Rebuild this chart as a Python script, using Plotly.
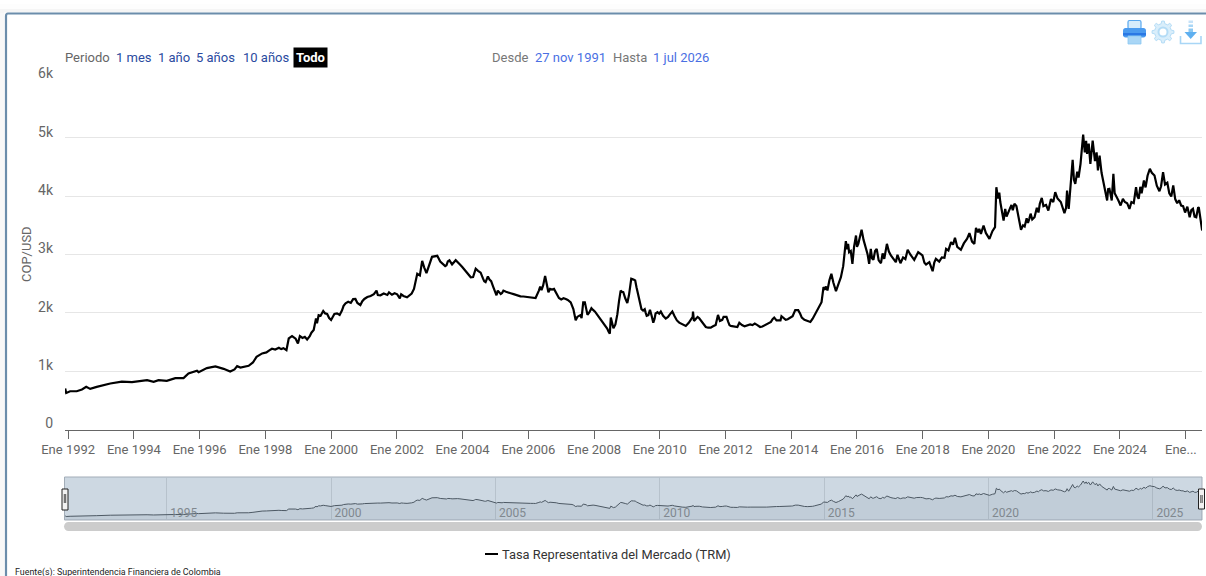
import math
import pandas as pd
import plotly.graph_objects as go

W, H = 1206, 576

# Values: decimal year, COP per USD
anos_1991_2001 = [1991.91,1991.94,1992.06,1992.26,1992.42,1992.55,1992.67,1992.87,1993.28,1993.63,1993.94,1994.40,1994.60,1994.75,1995.00,1995.26,1995.51,1995.66,1995.92,1995.97,1996.22,1996.48,1996.73,1996.93,1997.06,1997.14,1997.24,1997.49,1997.62,1997.73,1997.90,1998.03,1998.13,1998.41,1998.48,1998.64,1998.71,1998.81,1998.92,1998.99,1999.05,1999.27,1999.47,1999.54,1999.57,1999.76,1999.88,2000.00,2000.10,2000.26,2000.44,2000.74,2000.89,2001.01,2001.20,2001.38,2001.42,2001.71,2001.76,2002.01]
trm_1991_2001 = [702,627,656,656,685,731,696,731,788,822,811,845,817,845,834,880,880,960,1006,983,1052,1080,1040,994,1029,1086,1063,1092,1149,1246,1304,1321,1361,1401,1378,1361,1561,1602,1556,1476,1602,1544,1705,1905,1820,2031,1980,1877,1980,1963,2163,2238,2134,2238,2289,2381,2306,2306,2352,2318]

anos_2002_2014 = [2002.09,2002.13,2002.31,2002.52,2002.62,2002.77,2002.90,2003.07,2003.23,2003.41,2003.51,2003.60,2003.68,2003.79,2003.99,2004.19,2004.32,2004.40,2004.55,2004.70,2004.77,2004.87,2005.00,2005.07,2005.16,2005.24,2005.46,2005.76,2006.07,2006.22,2006.32,2006.40,2006.51,2006.61,2006.78,2006.93,2007.14,2007.29,2007.37,2007.44,2007.54,2007.62,2007.67,2007.72,2007.80,2007.92,2008.10,2008.30,2008.48,2008.51,2008.59,2008.71,2008.81,2008.89,2009.01,2009.13,2009.25,2009.34,2009.44,2009.54,2009.60,2009.70,2009.80,2009.87,2010.03,2010.18,2010.38,2010.59,2010.79,2011.00,2011.01,2011.04,2011.20,2011.40,2011.55,2011.70,2011.77,2011.83,2011.94,2012.03,2012.16,2012.36,2012.42,2012.67,2012.89,2013.05,2013.38,2013.48,2013.63,2013.70,2013.89,2014.04,2014.12,2014.21,2014.32,2014.58,2014.75,2014.88]
trm_2002_2014 = [2249,2318,2266,2410,2670,2890,2680,2960,2977,2832,2815,2900,2830,2902,2786,2653,2613,2757,2688,2526,2624,2543,2324,2381,2324,2381,2335,2283,2266,2254,2381,2390,2630,2353,2410,2254,2237,2179,2064,1873,1948,1910,2179,2179,1965,2081,1965,1815,1642,1919,1734,1977,2381,2353,2168,2584,2555,2324,2064,2064,1948,2052,1832,1988,2023,1902,2023,1832,1775,1931,2023,1860,1907,1757,1746,1792,1965,1861,1931,1931,1775,1757,1830,1792,1815,1757,1844,1919,1873,1942,1890,1942,2046,2046,1919,1844,2006,2121]

anos_2015_2026 = [2014.92,2014.98,2015.02,2015.06,2015.10,2015.16,2015.22,2015.28,2015.36,2015.44,2015.51,2015.58,2015.61,2015.66,2015.70,2015.73,2015.76,2015.81,2015.86,2015.91,2015.97,2016.00,2016.04,2016.09,2016.14,2016.20,2016.27,2016.32,2016.37,2016.42,2016.46,2016.50,2016.55,2016.60,2016.66,2016.73,2016.78,2016.83,2016.91,2016.97,2017.03,2017.10,2017.18,2017.23,2017.28,2017.32,2017.40,2017.47,2017.54,2017.62,2017.74,2017.80,2017.86,2017.93,2017.99,2018.05,2018.10,2018.20,2018.25,2018.30,2018.35,2018.40,2018.50,2018.58,2018.66,2018.71,2018.78,2018.86,2018.92,2018.98,2019.05,2019.16,2019.25,2019.35,2019.42,2019.50,2019.57,2019.62,2019.68,2019.72,2019.77,2019.85,2019.92,2020.03,2020.12,2020.20,2020.24,2020.29,2020.33,2020.36,2020.46,2020.51,2020.55,2020.64,2020.70,2020.74,2020.79,2020.85,2020.89,2020.99,2021.05,2021.10,2021.16,2021.20,2021.24,2021.28,2021.33,2021.40,2021.47,2021.52,2021.56,2021.62,2021.67,2021.75,2021.82,2021.90,2021.97,2022.03,2022.10,2022.20,2022.31,2022.36,2022.39,2022.44,2022.50,2022.56,2022.60,2022.64,2022.70,2022.74,2022.80,2022.88,2022.93,2022.97,2023.00,2023.05,2023.10,2023.17,2023.24,2023.29,2023.33,2023.38,2023.44,2023.50,2023.55,2023.61,2023.64,2023.68,2023.75,2023.80,2023.84,2023.88,2023.95,2024.02,2024.09,2024.15,2024.22,2024.29,2024.35,2024.42,2024.49,2024.53,2024.57,2024.62,2024.66,2024.73,2024.78,2024.84,2024.91,2024.97,2025.05,2025.12,2025.20,2025.25,2025.31,2025.37,2025.44,2025.50,2025.56,2025.62,2025.68,2025.74,2025.80,2025.86,2025.92,2025.98,2026.05,2026.12,2026.17,2026.22,2026.27,2026.32,2026.38,2026.40,2026.46,2026.50]
trm_2015_2026 = [2183,2440,2411,2450,2383,2560,2669,2520,2371,2500,2611,2800,2954,3229,3090,3180,3040,3060,2840,3130,3326,3130,3183,3330,3423,3250,3097,3010,2840,3097,2930,2909,3060,3097,2900,2851,3020,2926,3183,3050,2983,2920,2869,2994,2900,2851,2950,2920,3080,3000,2909,2990,3040,3010,2983,2860,2829,2869,2800,2714,2860,2926,2880,2950,2943,3097,3070,3211,3170,3286,3130,3080,3190,3270,3366,3220,3183,3457,3380,3440,3354,3497,3370,3269,3400,3469,4154,3960,4060,3900,3583,3780,3650,3754,3850,3760,3869,3830,3697,3423,3500,3480,3620,3540,3611,3700,3600,3640,3800,3720,3870,3971,3830,3850,3754,3950,3900,4069,3960,3900,3709,3800,4097,3783,4200,4623,4280,4211,4420,4320,4554,5057,4750,4950,4726,4900,4554,4954,4600,4750,4440,4697,4400,4211,4100,3926,4120,4126,3926,4383,4050,4011,3930,3840,3954,3900,3880,3783,3900,3880,4154,4000,3954,4160,4050,4269,4150,4350,4469,4400,4354,4180,4086,4170,4411,4200,4230,4050,3994,4183,3950,3880,3930,3840,3830,3720,3820,3640,3760,3783,3650,3640,3810,3800,3600,3411]

# Further readings from the zoomed crops, filling in the smaller swings
anos_detalle = [1998.20,1998.30,1998.55,1999.13,1999.20,1999.35,1999.40,1999.62,1999.68,1999.82,1999.94,2000.18,2000.33,2000.38,2000.52,2000.60,2000.67,2000.80,2000.95,2001.10,2001.30,2001.50,2001.60,2001.85,2001.93,2002.20,2002.45,2002.58,2002.70,2002.83,2003.15,2003.32,2003.47,2003.55,2003.64,2003.85,2003.92,2004.08,2004.13,2004.25,2004.36,2004.47,2004.62,2004.66,2004.82,2004.93,2005.03,2005.12,2005.20,2005.32,2005.38,2005.55,2005.65,2005.85,2005.95,2006.15,2006.36,2006.45,2006.56,2006.66,2006.72,2006.85,2007.00,2007.07,2007.20,2007.33,2007.49,2007.58,2007.76,2007.86,2007.97,2008.03,2008.20,2008.40,2008.44,2008.55,2008.65,2008.76,2008.85,2008.95,2009.06,2009.20,2009.29,2009.39,2009.49,2009.57,2009.65,2009.75,2009.84,2009.93,2009.98,2010.10,2010.25,2010.30,2010.45,2010.52,2010.68,2010.88,2010.95,2011.10,2011.15,2011.30,2011.35,2011.47,2011.62,2011.90,2011.98,2012.08,2012.12,2012.25,2012.30,2012.50,2012.58,2012.75,2012.82,2012.97,2013.12,2013.25,2013.32,2013.43,2013.55,2013.67,2013.78,2013.83,2013.95,2014.00,2014.27,2014.40,2014.50,2014.65,2014.70,2014.80]
trm_detalle = [1385,1370,1395,1570,1590,1600,1660,1960,1950,1990,1910,1990,2040,2120,2190,2170,2235,2170,2200,2270,2320,2300,2330,2310,2335,2290,2330,2600,2640,2780,2970,2880,2800,2880,2860,2860,2830,2730,2700,2610,2680,2720,2590,2540,2570,2450,2300,2350,2340,2360,2345,2320,2300,2280,2275,2262,2450,2470,2490,2410,2400,2340,2230,2250,2220,2130,1930,1960,2090,2010,2050,2020,1890,1730,1680,1800,1800,2200,2360,2250,2300,2570,2440,2170,2040,2000,1960,1950,1900,2010,1985,1950,1930,1970,1940,1870,1800,1830,1880,1900,1930,1820,1790,1745,1770,1880,1930,1850,1790,1770,1755,1790,1770,1800,1790,1790,1765,1800,1815,1890,1870,1870,1905,1880,1910,1930,1985,1880,1860,1900,1950,2050]

x_tick_years = list(range(1992, 2027, 2))
x_tick_labels = ["Ene %d" % y for y in x_tick_years[:-1]] + ["Ene...\u00a0\u00a0\u00a0"]
y_tick_vals = [0, 1000, 2000, 3000, 4000, 5000, 6000]
y_tick_labels = ["0", "1k", "2k", "3k", "4k", "5k", "6k"]
nav_years = [1995, 2000, 2005, 2010, 2015, 2020, 2025]
series_name = "Tasa Representativa del Mercado (TRM)"


def to_date(y):
    base = int(y)
    start = pd.Timestamp(base, 1, 1)
    return start + pd.Timedelta(days=(y - base) * 365.25)


tabla = sorted(zip(anos_1991_2001 + anos_2002_2014 + anos_2015_2026 + anos_detalle,
                   trm_1991_2001 + trm_2002_2014 + trm_2015_2026 + trm_detalle))
fechas = [to_date(a) for a, _ in tabla]
trm = [v for _, v in tabla]


def px(x):
    return x / W


def py(y):
    return 1 - y / H


def rrect(x0, y0, x1, y1, r):
    k = 0.45 * r
    p = lambda a, b: "%.5f,%.5f" % (px(a), py(b))
    return ("M" + p(x0 + r, y0) + " L" + p(x1 - r, y0)
            + " C" + p(x1 - k, y0) + " " + p(x1, y0 + k) + " " + p(x1, y0 + r)
            + " L" + p(x1, y1 - r)
            + " C" + p(x1, y1 - k) + " " + p(x1 - k, y1) + " " + p(x1 - r, y1)
            + " L" + p(x0 + r, y1)
            + " C" + p(x0 + k, y1) + " " + p(x0, y1 - k) + " " + p(x0, y1 - r)
            + " L" + p(x0, y0 + r)
            + " C" + p(x0, y0 + k) + " " + p(x0 + k, y0) + " " + p(x0 + r, y0) + " Z")


def poly(points):
    return "M" + " L".join("%.5f,%.5f" % (px(a), py(b)) for a, b in points) + " Z"


def rect(x0, y0, x1, y1, fill=None, line=None, lw=1, layer="above"):
    return dict(type="rect", xref="paper", yref="paper", x0=px(x0), x1=px(x1), y0=py(y0), y1=py(y1),
                fillcolor=fill or "rgba(0,0,0,0)", line=dict(color=line or "rgba(0,0,0,0)", width=lw if line else 0), layer=layer)


def seg(x0, y0, x1, y1, color, lw=1, layer="above"):
    return dict(type="line", xref="paper", yref="paper", x0=px(x0), x1=px(x1), y0=py(y0), y1=py(y1),
                line=dict(color=color, width=lw), layer=layer)


def path(d, fill=None, line=None, lw=1, layer="above"):
    return dict(type="path", xref="paper", yref="paper", path=d, fillcolor=fill or "rgba(0,0,0,0)",
                line=dict(color=line or "rgba(0,0,0,0)", width=lw if line else 0), layer=layer)


def circle(cx, cy, r, fill=None, line=None, lw=1):
    return dict(type="circle", xref="paper", yref="paper", x0=px(cx - r), x1=px(cx + r), y0=py(cy + r), y1=py(cy - r),
                fillcolor=fill or "rgba(0,0,0,0)", line=dict(color=line or "rgba(0,0,0,0)", width=lw if line else 0))


def gear(cx, cy, teeth=8, ro=11, ri=8.5):
    pts = []
    for i in range(teeth):
        a = 2 * math.pi * i / teeth
        w = math.pi / teeth
        for da, r in ((-0.55 * w, ri), (-0.3 * w, ro), (0.3 * w, ro), (0.55 * w, ri)):
            pts.append((cx + r * math.cos(a + da), cy + r * math.sin(a + da)))
    return poly(pts)


shapes = [
    # card frame
    rect(0, 4, W, 9, fill="rgba(235,235,235,0.12)", layer="below"),
    rect(0, 9, W, 12.5, fill="rgba(225,225,225,0.35)", layer="below"),
    rect(0, 12, 4.5, H, fill="rgba(235,235,235,0.35)", layer="below"),
    seg(8, 13.5, W, 13.5, "#6b8dab", 2.2),
    seg(6, 16, 6, H, "#6b8dab", 2.2),
    path("M%.5f,%.5f C%.5f,%.5f %.5f,%.5f %.5f,%.5f" % (px(6), py(16), px(6), py(14.5), px(6.5), py(13.5), px(8), py(13.5)),
         line="#6b8dab", lw=2.2),
    # navigator
    rect(64.5, 477, 1202, 520, fill="#cdd8e2", line="#a3adb8", lw=1, layer="below"),
    # scrollbar
    path(rrect(64, 522, 1202, 531, 4.5), fill="#cccccc", layer="below"),
    # navigator handles
    rect(62, 489, 68, 510, fill="#f2f2f2", line="#222222", lw=1),
    seg(64.3, 494, 64.3, 503, "#555555", 1),
    seg(65.7, 494, 65.7, 503, "#555555", 1),
    rect(1198.5, 489, 1204.5, 509, fill="#f2f2f2", line="#222222", lw=1),
    seg(1200.8, 495, 1200.8, 503, "#555555", 1),
    seg(1202.2, 495, 1202.2, 503, "#555555", 1),
    # legend sample
    seg(485, 554, 498, 554, "#000000", 2),
    # printer icon
    path(rrect(1128, 20.5, 1141, 29, 1.5), fill="#d6ecfb", line="#5aa8ee", lw=1.2),
    path(rrect(1123, 28, 1146, 37.5, 2.5), fill="#4b9bef"),
    rect(1123, 33, 1146, 35.5, fill="#2a78e4"),
    rect(1128, 36, 1141, 44, fill="#a9d6f6", line="#8cc8f2", lw=0.8),
    # settings icon
    path(gear(1163, 32), fill="#d9eefb", line="#b4dcf6", lw=1),
    circle(1163, 32, 4.5, fill="#ffffff", line="#b4dcf6", lw=2),
    # download icon
    rect(1188.5, 20.5, 1193, 23, fill="#c6e2f8"),
    rect(1188.5, 24.5, 1193, 27, fill="#a8d6f6"),
    rect(1188.5, 28.5, 1193, 32, fill="#8cc8f2"),
    path(poly([(1184.5, 32), (1197, 32), (1190.7, 39)]), fill="#5fb0f0"),
    path("M%.5f,%.5f L%.5f,%.5f L%.5f,%.5f L%.5f,%.5f" % (px(1180.5), py(36), px(1180.5), py(43.5), px(1201), py(43.5), px(1201), py(36)),
         line="#a8d6f6", lw=1.6),
]


def note(x, y, text, color="#666666", size=13, xanchor="left", **kw):
    return dict(xref="paper", yref="paper", x=px(x), y=py(y), text=text, showarrow=False, xanchor=xanchor,
                yanchor="middle", font=dict(family="Roboto", size=size, color=color), **kw)


DARK = "#2a4aa0"
LIGHT = "#4a6fe3"
annotations = [
    note(63, 57, "Periodo"),
    note(113.5, 57, "1 mes", DARK),
    note(156, 57, "1 año", DARK),
    note(194.5, 57, "5 años", DARK),
    note(240.5, 57, "10 años", DARK),
    note(293, 58, "<b>Todo</b>", "#ffffff", bgcolor="#000000", borderpad=2),
    note(490, 57, "Desde", "#777777", 13),
    note(532.5, 57, "27 nov 1991", LIGHT, 13),
    note(610.5, 57, "Hasta", "#777777", 13),
    note(650.5, 57, "1 jul 2026", LIGHT, 13),
    note(500, 554, series_name, "#333333", 12.85),
    note(12.5, 572, "Fuente(s): Superintendencia Financiera de Colombia", "#222222", 8.9),
    note(26, 254, "COP/USD", "#666666", 13, xanchor="center", textangle=-90),
]

x_start, x_end = "1991-11-27", "2026-07-01"

fig = go.Figure()
fig.add_trace(go.Scatter(x=fechas, y=trm, mode="lines", name=series_name, showlegend=False,
                         line=dict(color="#000000", width=2.2), xaxis="x", yaxis="y"))
fig.add_trace(go.Scatter(x=fechas, y=trm, mode="lines", showlegend=False, hoverinfo="skip", fill="tozeroy",
                         fillcolor="rgba(90,110,130,0.10)", line=dict(color="#4d5964", width=1), xaxis="x2", yaxis="y2"))

fig.update_layout(
    width=W, height=H, autosize=False,
    margin=dict(l=0, r=0, t=0, b=0, pad=0, autoexpand=False),
    paper_bgcolor="#ffffff", plot_bgcolor="rgba(0,0,0,0)",
    font=dict(family="Roboto", color="#666666"),
    showlegend=False,
    shapes=shapes, annotations=annotations,
    xaxis=dict(
        domain=[px(65), px(1202)], range=[x_start, x_end], type="date", anchor="y",
        tickmode="array", tickvals=["%d-01-01" % y for y in x_tick_years], ticktext=x_tick_labels,
        ticks="outside", ticklen=8, tickwidth=1, tickcolor="#666666", ticklabeloverflow="allow",
        showline=True, linecolor="#666666", linewidth=1, showgrid=False, zeroline=False,
        tickfont=dict(family="Roboto", size=13, color="#666666"), tickangle=0,
    ),
    yaxis=dict(
        domain=[py(429.5), py(79.5)], range=[0, 6000], anchor="x",
        tickmode="array", tickvals=y_tick_vals, ticktext=y_tick_labels,
        ticks="", ticklabelstandoff=11, ticklabelshift=-6,
        showgrid=True, gridcolor="#e6e6e6", gridwidth=1, zeroline=False, showline=False,
        tickfont=dict(family="Roboto", size=14, color="#666666"),
    ),
    xaxis2=dict(
        domain=[px(65), px(1202)], range=[x_start, x_end], type="date", anchor="y2",
        tickmode="array", tickvals=["%d-01-01" % y for y in nav_years], ticktext=[str(y) for y in nav_years],
        ticklabelposition="inside", ticks="", ticklabelshift=17, ticklabelstandoff=-2,
        showgrid=True, gridcolor="#b7c2cc", gridwidth=1, showline=False, zeroline=False,
        tickfont=dict(family="Roboto", size=12, color="#80888f"), tickangle=0,
    ),
    yaxis2=dict(
        domain=[py(520), py(477)], range=[190, 5557], anchor="x2",
        showticklabels=False, ticks="", showgrid=False, zeroline=False, showline=False,
    ),
)

fig.write_html("out.html", config=dict(displayModeBar=False),
               post_script="document.body.style.margin='0';document.body.style.overflow='hidden';")
